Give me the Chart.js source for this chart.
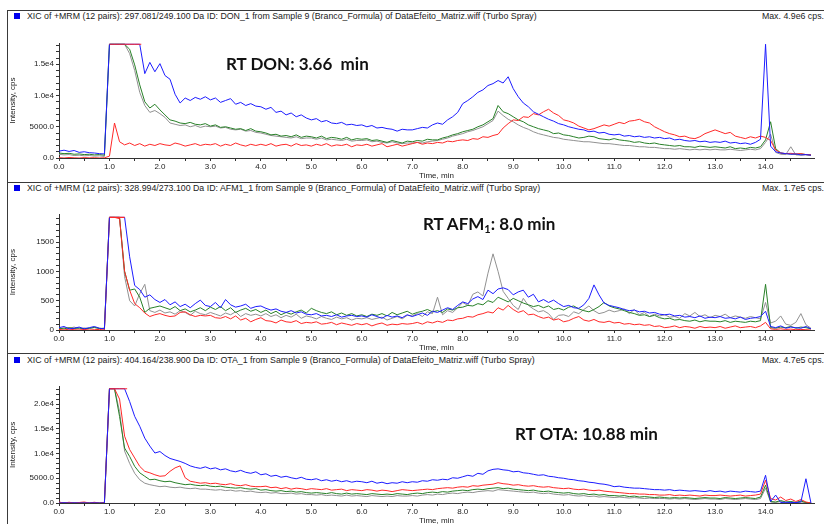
<!DOCTYPE html>
<html>
<head>
<meta charset="utf-8">
<script src="https://cdn.jsdelivr.net/npm/chart.js@4.4.1/dist/chart.umd.min.js"></script>
<style>
  html, body { margin: 0; padding: 0; background: #fff; }
  body { width: 824px; height: 524px; position: relative; overflow: hidden; font-family: "Liberation Sans", Arial, sans-serif; }
  canvas { position: absolute; left: 0; }
  .rule { position: absolute; background: #3a3a3a; }
  .hdr { position: absolute; left: 27px; font-size: 8.8px; color: #222; white-space: pre; line-height: 10px; }
  .max { position: absolute; right: 0; font-size: 8.8px; color: #222; white-space: pre; line-height: 10px; }
  .sq { position: absolute; left: 14px; width: 6px; height: 6px; background: #0000ee; }
  .rt { position: absolute; font-family: Lato, "Open Sans", sans-serif; font-weight: 700; font-size: 17px; color: #111; white-space: pre; line-height: 20px; }
  .rt sub { font-size: 11px; vertical-align: -3px; line-height: 0; }
</style>
</head>
<body>

<div class="rule" style="left:7px; top:10px; width:817px; height:1px"></div>
<div class="rule" style="left:7px; top:10px; width:1px; height:514px"></div>
<div class="rule" style="left:7px; top:182px; width:817px; height:1px; z-index:2"></div>
<div class="rule" style="left:7px; top:353px; width:817px; height:1px; z-index:2"></div>

<div class="sq" style="top:13px"></div>
<div class="hdr" style="top:11px">XIC of +MRM (12 pairs): 297.081/249.100 Da ID: DON_1 from Sample 9 (Branco_Formula) of DataEfeito_Matriz.wiff (Turbo Spray)</div>
<div class="max" style="top:11px">Max. 4.9e6 cps.</div>

<div class="sq" style="top:185px"></div>
<div class="hdr" style="top:183px">XIC of +MRM (12 pairs): 328.994/273.100 Da ID: AFM1_1 from Sample 9 (Branco_Formula) of DataEfeito_Matriz.wiff (Turbo Spray)</div>
<div class="max" style="top:183px">Max. 1.7e5 cps.</div>

<div class="sq" style="top:357px"></div>
<div class="hdr" style="top:355px">XIC of +MRM (12 pairs): 404.164/238.900 Da ID: OTA_1 from Sample 9 (Branco_Formula) of DataEfeito_Matriz.wiff (Turbo Spray)</div>
<div class="max" style="top:355px">Max. 4.7e5 cps.</div>

<canvas id="don" width="824" height="158" style="top:24px"></canvas>
<canvas id="afm" width="824" height="158" style="top:196px"></canvas>
<canvas id="ota" width="824" height="159" style="top:368px"></canvas>

<div class="rt" style="left:226px; top:54px">RT DON: 3.66  min</div>
<div class="rt" style="left:423px; top:214px">RT AFM<sub>1</sub>: 8.0 min</div>
<div class="rt" style="left:515px; top:424px">RT OTA: 10.88 min</div>

<script>
// sampling grid, minutes (0.0 .. 14.9)
const times = Array.from({ length: 150 }, (_, i) => i / 10);

// DON 297.081/249.100, cps
const donBlue = [
  1100, 1250, 1050, 1200, 900, 1000, 850, 800, 700, 650,
  18200, 18200, 18200, 18200, 18200, 18200, 18200, 13500, 15300, 13800,
  15100, 13200, 12600, 10200, 8800, 9600, 9200, 9700, 9400, 9800,
  9300, 9600, 8900, 9200, 9500, 8600, 8900, 8400, 8700, 8300,
  8200, 7800, 8100, 7300, 7500, 6900, 7200, 6600, 6900, 6400,
  6100, 6300, 5800, 6000, 5600, 5500, 5700, 5300, 5400, 5200,
  5300, 5000, 5200, 4800, 4900, 4700, 4600, 4300, 4600, 4500,
  4500, 4700, 4900, 4800, 5300, 5600, 5400, 6100, 6600, 7300,
  8700, 9200, 9800, 10500, 10900, 11600, 11900, 12400, 12000, 13000,
  11100, 9800, 8800, 8200, 7400, 7000, 6600, 6200, 5900, 5500,
  5300, 5000, 4800, 4600, 4500, 4200, 4300, 4000, 4100, 3800,
  3700, 3800, 3500, 3600, 3400, 3500, 3300, 3400, 3200, 3300,
  3100, 3200, 2900, 3000, 2800, 2700, 2800, 2600, 2700, 2500,
  2600, 2500, 2700, 2400, 2500, 2300, 2400, 2200, 2500, 3000,
  18200, 1900, 1000, 800, 700, 600, 650, 500, 550, 450
];
const donRed = [
  50, 0, 80, 30, 0, 60, 20, 40, 0, 30,
  300, 5600, 2600, 2100, 2400, 2000, 2300, 1900, 2200, 2000,
  2300, 2100, 2000, 2400, 2200, 1900, 2100, 2300, 2000, 2200,
  2100, 2300, 1900, 2200, 2000, 2400, 2100, 1900, 2200, 2000,
  2200, 2000, 2300, 1900, 2100, 2200, 1900, 2300, 2000, 2100,
  1900, 2200, 2000, 2300, 1900, 2100, 2000, 2200, 1800, 2100,
  2000, 2200, 1900, 2100, 2300, 1800, 2000, 2200, 1900, 2100,
  2300, 2500, 2200, 2400, 2300, 2500, 2400, 2700, 2600, 2800,
  2900, 2800, 3100, 3000, 3400, 3300, 3600, 3800, 4800, 5500,
  6100, 6000, 6600, 6500, 7100, 6900, 7400, 7800, 7200, 6800,
  6100, 5900, 5600, 5100, 4800, 4500, 4700, 5000, 5300, 5100,
  5400, 5700, 5500, 5900, 6000, 6200, 5800, 5600, 5000, 4600,
  4200, 3900, 3700, 3400, 3500, 3200, 3100, 3400, 3900, 4200,
  4500, 4200, 3900, 4100, 3500, 3300, 3100, 3400, 3200, 3500,
  3300, 2800, 1300, 800, 700, 750, 650, 700, 550, 500
];
const donGreen = [
  800, 700, 750, 600, 650, 550, 600, 500, 550, 450,
  18200, 18200, 18200, 18200, 17400, 14900, 11700, 9000, 8000, 8600,
  7700, 6900, 6100, 5900, 5600, 5500, 5700, 5400, 5300, 5500,
  5100, 5300, 4900, 5000, 4800, 4600, 4700, 4400, 4700, 4300,
  4200, 4000, 3700, 3800, 3500, 3600, 3400, 3700, 3300, 3500,
  3400, 3200, 3500, 3100, 3300, 3200, 3000, 3300, 2900, 3100,
  3000, 3100, 2800, 2900, 2700, 2500, 2800, 2600, 2400, 2700,
  2600, 2800, 2700, 3000, 2900, 2900, 3200, 3400, 3700, 3900,
  4200, 4400, 4600, 5000, 5300, 5800, 6300, 8400, 7400, 7100,
  6600, 6100, 5800, 5300, 5000, 4700, 4500, 4300, 3900, 4000,
  3700, 3600, 3400, 3200, 3300, 3500, 3400, 3100, 3000, 2900,
  3100, 2900, 2800, 2700, 2500, 2600, 2400, 2300, 2400, 2200,
  2100, 2000, 1900, 2000, 1800, 1800, 1700, 1900, 1800, 1700,
  1800, 1700, 1600, 1800, 1500, 1600, 1500, 1700, 1600, 1800,
  2900, 5800, 1500, 800, 700, 650, 600, 650, 550, 500
];
const donGray = [
  600, 500, 550, 400, 450, 350, 400, 300, 350, 250,
  18200, 18200, 18200, 18200, 16700, 14000, 10500, 8400, 7300, 7600,
  7100, 6500, 5600, 5400, 5200, 5300, 5000, 5200, 4900, 5100,
  5000, 5100, 4800, 4900, 4600, 4500, 4600, 4300, 4400, 4100,
  4000, 3800, 3600, 3500, 3400, 3300, 3200, 3400, 3100, 3200,
  3200, 3000, 3200, 2900, 3000, 2900, 2800, 3000, 2700, 2800,
  2800, 2900, 2600, 2700, 2500, 2400, 2600, 2400, 2300, 2400,
  2400, 2500, 2400, 2600, 2700, 2800, 3000, 3200, 3500, 3700,
  3900, 4200, 4400, 4700, 5000, 5500, 6000, 7500, 6800, 6200,
  5800, 5300, 4900, 4600, 4200, 3900, 3700, 3500, 3300, 3200,
  3000, 2900, 2800, 2700, 2600, 2600, 2500, 2400, 2300, 2300,
  2200, 2100, 2000, 2000, 1900, 1800, 1800, 1700, 1700, 1600,
  1500, 1500, 1400, 1500, 1400, 1300, 1400, 1300, 1400, 1300,
  1400, 1300, 1300, 1400, 1300, 1200, 1300, 1400, 1300, 1500,
  2500, 3800, 900, 600, 550, 1800, 500, 450, 500, 400
];

// AFM1 328.994/273.100, cps
const afmBlue = [
  40, 60, 20, 30, 50, 20, 40, 60, 30, 20,
  1923, 1923, 1923, 1923, 1250, 760, 690, 560, 600, 520,
  470, 520, 430, 480, 400, 440, 380, 450, 510, 420,
  400, 470, 380, 520, 430, 390, 410, 440, 370, 400,
  410, 370, 340, 360, 320, 300, 330, 290, 310, 270,
  260, 280, 240, 250, 230, 260, 220, 240, 250, 230,
  240, 220, 260, 230, 200, 250, 220, 240, 210, 260,
  230, 260, 290, 250, 320, 300, 340, 380, 350, 420,
  480, 450, 530, 570, 520, 680, 620, 700, 720, 690,
  600, 650, 680, 560, 610, 480, 520, 470, 510, 450,
  400, 420, 380, 370, 430, 540, 770, 600, 460, 420,
  400, 380, 350, 330, 340, 310, 320, 290, 300, 270,
  260, 270, 240, 250, 220, 230, 210, 240, 200, 220,
  210, 230, 200, 210, 190, 220, 180, 200, 210, 230,
  320, 60, 40, 70, 30, 50, 40, 30, 60, 20
];
const afmRed = [
  10, 0, 15, 5, 0, 10, 0, 5, 10, 0,
  1923, 1923, 1900, 1000, 680, 450, 380, 290, 230, 260,
  280, 250, 230, 240, 300, 310, 260, 230, 250, 240,
  250, 210, 200, 230, 190, 240, 170, 200, 140, 180,
  210, 160, 150, 120, 170, 140, 130, 160, 110, 130,
  120, 140, 100, 110, 130, 90, 120, 100, 80, 110,
  90, 110, 70, 100, 120, 80, 100, 90, 110, 100,
  110, 130, 100, 140, 120, 150, 130, 170, 160, 190,
  200, 230, 220, 260, 280, 310, 290, 380, 340, 420,
  350, 300, 330, 260, 270, 230, 200, 220, 170, 190,
  140, 160, 200, 230, 170, 150, 180, 140, 130, 150,
  120, 130, 100, 110, 90, 100, 80, 90, 60, 70,
  40, 50, 70, 40, 60, 50, 30, 60, 40, 50,
  40, 60, 30, 50, 70, 40, 50, 60, 40, 70,
  130, 20, 10, 20, 10, 15, 5, 10, 5, 0
];
const afmGreen = [
  30, 20, 40, 25, 35, 20, 30, 45, 25, 30,
  1923, 1923, 1923, 1000, 680, 700, 560, 300, 370, 390,
  410, 380, 350, 400, 330, 360, 310, 340, 380, 330,
  390, 350, 400, 330, 380, 300, 340, 370, 320, 350,
  300, 340, 280, 320, 260, 300, 270, 310, 340, 290,
  370, 330, 300, 280, 310, 260, 290, 250, 280, 240,
  260, 230, 270, 250, 280, 240, 300, 260, 290, 320,
  270, 300, 320, 350, 310, 330, 300, 360, 340, 380,
  390, 420, 410, 450, 430, 500, 470, 560, 520, 480,
  540, 500, 460, 430, 400, 420, 380, 410, 350, 370,
  340, 390, 410, 360, 330, 310, 350, 400, 470, 410,
  380, 360, 330, 300, 280, 250, 260, 230, 250, 210,
  190, 200, 170, 180, 160, 150, 170, 140, 160, 150,
  150, 140, 160, 130, 150, 140, 130, 150, 140, 160,
  780, 40, 30, 50, 40, 60, 30, 50, 40, 20
];
const afmGray = [
  20, 40, 30, 50, 20, 35, 25, 40, 30, 20,
  1923, 1923, 1923, 910, 500, 410, 620, 780, 330, 300,
  340, 290, 310, 270, 330, 300, 250, 320, 280, 260,
  300, 270, 240, 290, 260, 310, 230, 280, 250, 270,
  240, 280, 230, 260, 210, 250, 220, 270, 200, 240,
  220, 190, 230, 200, 180, 220, 190, 210, 170, 200,
  190, 210, 180, 200, 220, 170, 200, 230, 190, 250,
  240, 280, 230, 310, 280, 560, 260, 330, 300, 380,
  470, 420, 610, 650, 580, 970, 1300, 1000, 660, 540,
  420, 350, 540, 420, 360, 310, 330, 280, 180, 250,
  260, 230, 310, 280, 350, 410, 330, 280, 300, 340,
  310, 330, 360, 280, 350, 260, 300, 230, 270, 240,
  260, 220, 230, 200, 280, 240, 300, 230, 260, 210,
  250, 230, 270, 210, 240, 220, 200, 230, 210, 190,
  470, 120, 150, 240, 100, 80, 130, 280, 90, 30
];

// OTA 404.164/238.900, cps
const otaBlue = [
  0, 50, 0, 30, 0, 20, 0, 40, 0, 10,
  23090, 23090, 23090, 23090, 20500, 17500, 15500, 13100, 11500, 10100,
  10400, 9600, 9000, 8700, 8400, 8000, 7500, 7200, 7000, 7300,
  6900, 7100, 6700, 6900, 6500, 6300, 6600, 6200, 6000, 6300,
  5700, 5900, 5400, 5600, 5200, 5400, 5100, 4900, 5200, 4800,
  4700, 4900, 4500, 4700, 4400, 4600, 4300, 4500, 4200, 4400,
  4300, 4100, 4400, 4000, 4200, 3900, 4100, 4000, 4300, 4100,
  4300, 4200, 4500, 4400, 4700, 4600, 4800, 4700, 5100, 5000,
  5300, 5600, 5400, 6000, 5800, 6500, 6800, 6900, 6700, 6600,
  6300, 6400, 6100, 6000, 5800, 5600, 5700, 5400, 5300, 5100,
  5000, 4800, 4700, 4500, 4400, 4200, 4100, 3900, 3800, 3600,
  3300, 3400, 3200, 3100, 3000, 3000, 2900, 2800, 2700, 2700,
  2600, 2700, 2500, 2600, 2500, 2400, 2500, 2400, 2300, 2500,
  2300, 2400, 2200, 2400, 2300, 2200, 2400, 2300, 2200, 2400,
  5600, 300, 1600, 100, 150, 100, 80, 200, 4900, 0
];
const otaRed = [
  200, 0, 150, 0, 100, 200, 0, 150, 0, 100,
  23090, 23090, 21000, 13500, 10800, 9100, 7400, 6400, 6100, 5700,
  5400, 5500, 6400, 7100, 7500, 5100, 4400, 4200, 4000, 4100,
  3900, 4000, 3800, 3700, 3900, 3600, 3500, 3700, 3400, 3300,
  3300, 3400, 3100, 3200, 2900, 3100, 2800, 3000, 2900, 2700,
  2900, 2800, 2700, 2900, 2600, 2700, 2800, 2500, 2700, 2600,
  2500, 2700, 2600, 2400, 2600, 2500, 2300, 2500, 2700, 2600,
  2500, 2600, 2700, 2800, 2700, 2900, 3000, 3100, 3000, 3200,
  3300, 3200, 3500, 3400, 3600, 3700, 3800, 4100, 3900, 3800,
  3600, 3700, 3500, 3400, 3500, 3300, 3200, 3300, 3100, 3000,
  2900, 3000, 2800, 2700, 2800, 2600, 2500, 2600, 2400, 2300,
  2200, 2100, 2000, 1900, 1900, 1800, 1800, 1700, 1700, 1600,
  1600, 1700, 1500, 1600, 1500, 1600, 1500, 1400, 1600, 1500,
  1500, 1600, 1500, 1400, 1500, 1600, 1400, 1500, 1600, 1800,
  4600, 900, 600, 1200, 500, 800, 300, 700, 200, 0
];
const otaGreen = [
  0, 20, 0, 10, 0, 30, 0, 10, 0, 20,
  23090, 23090, 17500, 11100, 9400, 7400, 6100, 5400, 4700, 4800,
  4500, 4300, 4400, 4100, 3900, 3700, 3800, 3600, 3500, 3600,
  3400, 3300, 3400, 3200, 3100, 3000, 3100, 2900, 2800, 2900,
  2600, 2700, 2500, 2400, 2500, 2300, 2400, 2200, 2300, 2100,
  2000, 2100, 2000, 1900, 2100, 1900, 1800, 2000, 1800, 1900,
  1800, 1700, 1900, 1800, 1700, 1800, 1700, 1900, 1800, 1700,
  1900, 2000, 1900, 2100, 2200, 2100, 2300, 2200, 2400, 2500,
  2600, 2500, 2700, 2800, 2700, 2900, 3000, 3100, 2900, 3000,
  2800, 2700, 2600, 2500, 2600, 2400, 2300, 2400, 2200, 2100,
  2000, 2100, 1900, 1800, 1900, 1700, 1800, 1600, 1700, 1500,
  1500, 1400, 1500, 1300, 1400, 1200, 1300, 1200, 1100, 1200,
  1100, 1000, 1100, 1000, 1100, 1000, 900, 1000, 1100, 1000,
  1000, 900, 1100, 1000, 900, 1000, 1100, 1000, 900, 1200,
  3600, 300, 200, 500, 200, 300, 100, 400, 100, 0
];
const otaGray = [
  0, 10, 0, 20, 0, 10, 0, 20, 0, 10,
  23090, 23090, 18500, 10500, 8000, 6000, 4700, 4000, 3700, 3500,
  3300, 3400, 3200, 3100, 3200, 3000, 2900, 3000, 2800, 2800,
  2700, 2600, 2700, 2500, 2600, 2400, 2500, 2300, 2400, 2200,
  2100, 2200, 2000, 2100, 1900, 1900, 2000, 1800, 1900, 1700,
  1700, 1600, 1700, 1500, 1600, 1500, 1400, 1600, 1400, 1500,
  1400, 1300, 1500, 1400, 1300, 1400, 1300, 1500, 1400, 1400,
  1500, 1400, 1600, 1700, 1600, 1800, 1700, 1900, 2000, 1900,
  2100, 2200, 2100, 2300, 2400, 2500, 2400, 2700, 2600, 2500,
  2400, 2300, 2200, 2100, 2200, 2000, 1900, 2000, 1800, 1700,
  1600, 1700, 1500, 1400, 1500, 1300, 1400, 1200, 1300, 1200,
  1100, 1200, 1100, 1000, 1100, 1000, 900, 1000, 900, 900,
  900, 800, 900, 800, 900, 800, 700, 800, 900, 800,
  800, 700, 900, 800, 700, 800, 900, 800, 700, 900,
  3000, 200, 100, 300, 100, 200, 100, 200, 100, 0
];

// saturated (clipped) segment drawn flat at the top of each trace
const donSatTimes = [1.0, 1.63];
const afmSatTimes = [1.0, 1.3];
const otaSatTimes = [1.0, 1.35];
const donSatLevel = 18200;
const afmSatLevel = 1923;
const otaSatLevel = 23090;

// y tick labels (minor ticks every yMinor, unlabeled)
const donTickValues = [0, 5000, 10000, 15000];
const donTickLabels = ['0.0', '5000.0', '1.0e4', '1.5e4'];
const afmTickValues = [0, 500, 1000, 1500];
const afmTickLabels = ['0', '500', '1000', '1500'];
const otaTickValues = [0, 5000, 10000, 15000, 20000];
const otaTickLabels = ['0.0', '5000.0', '1.0e4', '1.5e4', '2.0e4'];

// x ticks every half minute, labels on whole minutes
const xMax = 14.96;
const xTickStep = 0.5;

const COLORS = {
  blue: 'rgb(28,28,255)',
  red: 'rgb(255,40,40)',
  green: 'rgb(40,128,40)',
  gray: 'rgb(145,145,145)'
};
const AXIS = '#333';
const tickFont = { family: '"Liberation Sans", Arial, sans-serif', size: 8 };

function xy(values) {
  return values.map((v, i) => ({ x: times[i], y: v }));
}

function trace(values, color) {
  return { data: xy(values), borderColor: color, borderWidth: 1, pointRadius: 0, tension: 0, fill: false };
}

// tick positions from 0 up to max in fixed steps (rounded to avoid float drift)
function tickRun(max, step) {
  const out = [];
  for (let k = 0; k * step <= max; k++) out.push({ value: Math.round(k * step * 1000) / 1000 });
  return out;
}

/**
 * one XIC panel; chartTop is the top of the plot area inside the canvas
 */
function chromatogram(id, cfg) {
  const sat = {
    data: cfg.satTimes.map(t => ({ x: t, y: cfg.satLevel })),
    borderColor: COLORS.red, borderWidth: 1.2, pointRadius: 0, fill: false
  };
  return new Chart(document.getElementById(id), {
    type: 'line',
    data: {
      datasets: [
        sat,
        trace(cfg.blue, COLORS.blue),
        trace(cfg.red, COLORS.red),
        trace(cfg.green, COLORS.green),
        trace(cfg.gray, COLORS.gray)
      ]
    },
    options: {
      responsive: false,
      animation: false,
      devicePixelRatio: 1,
      layout: { padding: { top: cfg.chartTop, right: 10, left: 0, bottom: 0 } },
      plugins: { legend: { display: false }, tooltip: { enabled: false } },
      scales: {
        x: {
          type: 'linear',
          min: 0,
          max: xMax,
          afterBuildTicks: s => { s.ticks = tickRun(xMax, xTickStep); },
          afterFit: s => { s.height = 24; },
          border: { display: true, color: AXIS, width: 1 },
          grid: { drawOnChartArea: false, drawTicks: true, tickLength: 3, color: AXIS },
          ticks: {
            autoSkip: false,
            maxRotation: 0,
            padding: 1,
            color: '#222',
            font: tickFont,
            callback: v => (Math.abs(v - Math.round(v)) < 1e-6 ? v.toFixed(1) : '')
          },
          title: { display: true, text: 'Time, min', color: '#222', font: tickFont, padding: { top: 0, bottom: 1 } }
        },
        y: {
          min: 0,
          max: cfg.yMax,
          afterBuildTicks: s => { s.ticks = tickRun(cfg.yMax, cfg.yMinor); },
          afterFit: s => { s.width = 59; },
          border: { display: true, color: AXIS, width: 1 },
          grid: { drawOnChartArea: false, drawTicks: true, tickLength: 3, color: AXIS },
          ticks: {
            autoSkip: false,
            padding: 2,
            color: '#222',
            font: tickFont,
            callback: v => {
              const k = cfg.tickValues.findIndex(t => Math.abs(t - v) < cfg.yMinor / 10);
              return k < 0 ? '' : cfg.tickLabels[k];
            }
          },
          title: { display: true, text: 'Intensity, cps', color: '#222', font: tickFont, padding: { top: 8, bottom: 0 } }
        }
      }
    }
  });
}

chromatogram('don', {
  blue: donBlue, red: donRed, green: donGreen, gray: donGray,
  satTimes: donSatTimes, satLevel: donSatLevel,
  yMax: 18400, yMinor: 1000, tickValues: donTickValues, tickLabels: donTickLabels,
  chartTop: 19
});
chromatogram('afm', {
  blue: afmBlue, red: afmRed, green: afmGreen, gray: afmGray,
  satTimes: afmSatTimes, satLevel: afmSatLevel,
  yMax: 1975, yMinor: 100, tickValues: afmTickValues, tickLabels: afmTickLabels,
  chartTop: 18.3
});
chromatogram('ota', {
  blue: otaBlue, red: otaRed, green: otaGreen, gray: otaGray,
  satTimes: otaSatTimes, satLevel: otaSatLevel,
  yMax: 23500, yMinor: 1000, tickValues: otaTickValues, tickLabels: otaTickLabels,
  chartTop: 18.7
});
</script>
</body>
</html>
